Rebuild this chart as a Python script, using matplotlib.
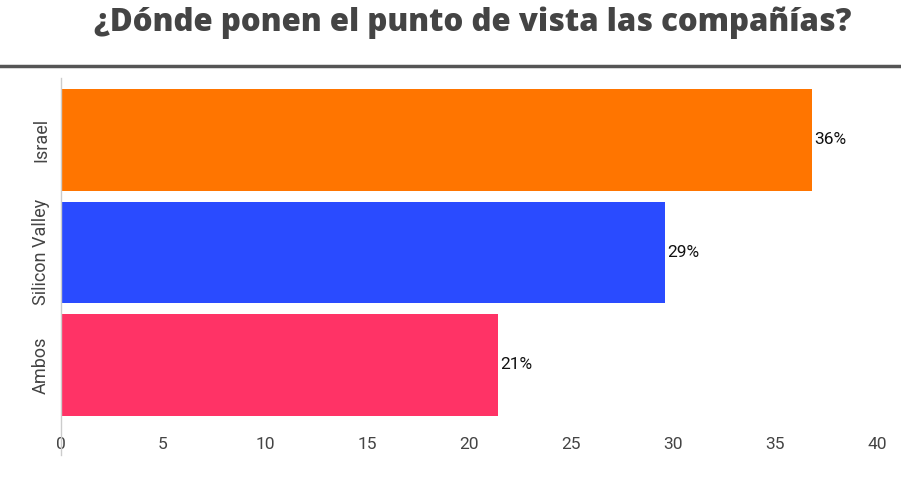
import matplotlib.pyplot as plt
from matplotlib.lines import Line2D

# data
categories = ['Israel', 'Silicon Valley', 'Ambos']
values = [36.8, 29.6, 21.4]
value_labels = ['36%', '29%', '21%']
bar_colors = ['#FF7500', '#2A4BFF', '#FF3366']
xticks = [0, 5, 10, 15, 20, 25, 30, 35, 40]

W, H = 901, 483
fig = plt.figure(figsize=(W / 100, H / 100), dpi=100)

# title + rule under it
fig.text(473 / W, 1 - 23 / H, '¿Dónde ponen el punto de vista las compañías?',
         ha='center', va='center', fontsize=22.5, fontweight='heavy',
         family='Open Sans', color='#444444')
fig.add_artist(Line2D([0, 1], [1 - 66 / H, 1 - 66 / H], color='#555555', lw=2.5))

# axes placed in pixels
left, right, top, bottom = 61, 877, 78, 455
ax = fig.add_axes([left / W, 1 - bottom / H, (right - left) / W, (bottom - top) / H])

pos = list(range(len(categories)))
ax.barh(pos, values, height=0.9, color=bar_colors)
for p, v, lab in zip(pos, values, value_labels):
    ax.text(v + 0.12, p, lab, va='center', ha='left', fontsize=12.5,
            family='Roboto', color='#111111')

ax.set_xlim(0, 40)
ax.set_ylim(2.8, -0.55)
ax.set_xticks(xticks)
ax.set_xticklabels([str(t) for t in xticks], family='Roboto', fontsize=12.5, color='#444444')
ax.set_yticks(pos)
ax.set_yticklabels(categories, rotation=90, va='center', family='Roboto',
                   fontsize=13, color='#444444')
ax.tick_params(axis='x', length=0, pad=-13)
ax.tick_params(axis='y', length=0, pad=8)

for s in ['top', 'right', 'bottom']:
    ax.spines[s].set_visible(False)
ax.spines['left'].set_color('#cccccc')
ax.spines['left'].set_linewidth(1)

fig.savefig('out.png', dpi=100)
